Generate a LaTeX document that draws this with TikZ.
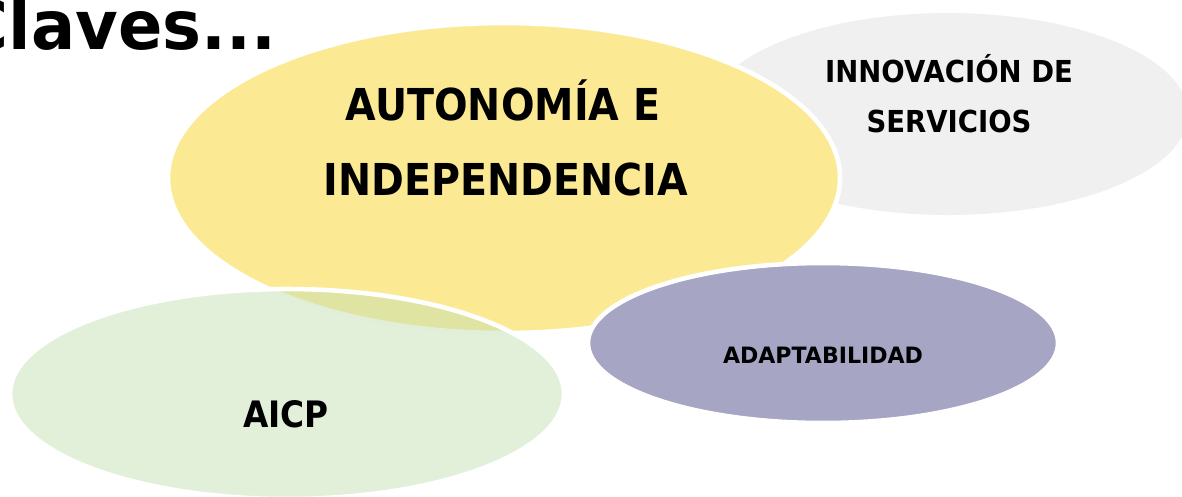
\documentclass[tikz,border=0pt]{standalone}
\usepackage{fontspec}
\setmainfont{DejaVu Sans}
\usepackage{tikz}
\usetikzlibrary{positioning}
\definecolor{gris}{RGB}{240,240,240}
\definecolor{amarillo}{RGB}{251,234,147}
\definecolor{verde}{RGB}{197,224,180}
\definecolor{morado}{RGB}{166,165,196}

\begin{document}
\begin{tikzpicture}[x=0.01cm, y=-0.01cm,
	borde/.style={draw=white, line width=1.3pt},
	txt/.style={font=\bfseries\fontsize{#1}{#1}\selectfont, inner sep=0pt, anchor=base}]
\clip (0,0) rectangle (1182,496);
% burbujas
	\fill [gris] (948,114) ellipse [x radius=240, y radius=101];
	\filldraw [fill=amarillo, borde] (504,178) ellipse [x radius=336, y radius=155];
	\filldraw [fill=verde, fill opacity=0.5, borde] (287,394) ellipse [x radius=277, y radius=105];
	\filldraw [fill=morado, borde] (823,343) ellipse [x radius=235, y radius=80];

% textos
	\node [txt=19.3, anchor=base east, xscale=0.965] (titulo) at (277,49) {Claves...};
	\node [txt=12.5, xscale=0.9] (auto1) at (503,120) {AUTONOM\'IA E};
	\node [txt=12.5, xscale=0.9] (auto2) at (506,195) {INDEPENDENCIA};
	\node [txt=8.6, xscale=0.91] (innov1) at (949,82) {INNOVACI\'ON DE};
	\node [txt=8.6, xscale=0.91] (innov2) at (949,132) {SERVICIOS};
	\node [txt=6.4, xscale=0.98] (adapt) at (823,363) {ADAPTABILIDAD};
	\node [txt=10.35, xscale=0.9] (aicp) at (286,427) {AICP};
\end{tikzpicture}
\end{document}
